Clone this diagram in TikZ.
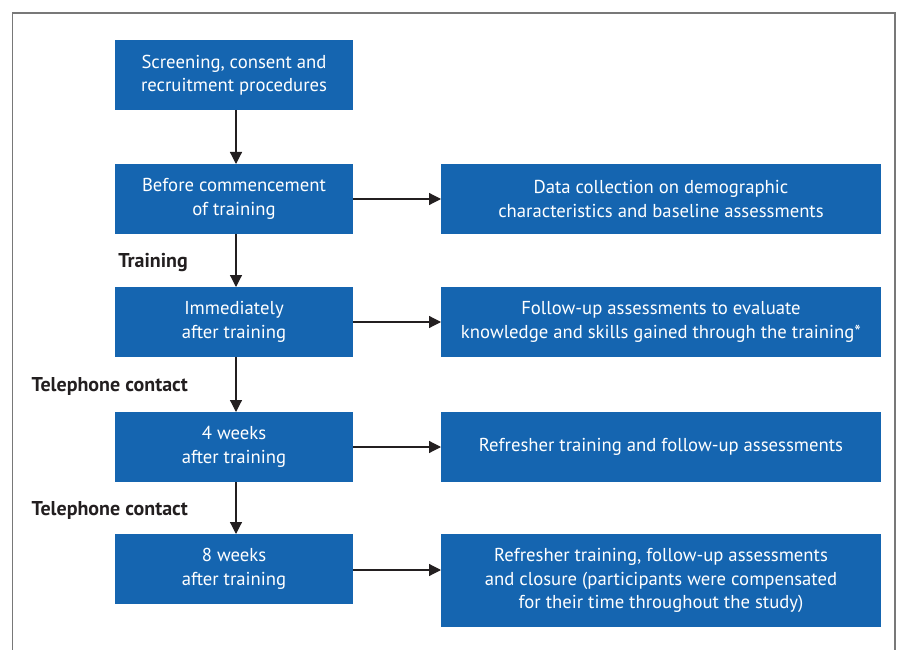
\documentclass[tikz,border=0pt]{standalone}
\usepackage{fontspec}
\setmainfont{PT Sans}
\usetikzlibrary{arrows.meta}
\definecolor{boxblue}{RGB}{21,101,176}
\definecolor{framegray}{RGB}{120,120,120}
\definecolor{arrowblack}{RGB}{35,31,32}
\begin{document}
\begin{tikzpicture}[x=1pt,y=-1pt,
  bluebox/.style={fill=boxblue,text=white,align=center,inner sep=0pt,
    font=\fontsize{18.7}{23.5}\selectfont},
  lbl/.style={font=\fontsize{20}{22}\selectfont\bfseries,text=arrowblack,anchor=east,inner sep=0pt},
  conn/.style={draw=arrowblack,line width=1.2pt,-{Triangle[length=12pt,width=12pt]}}]
\useasboundingbox (0,0) rectangle (898,650);
\draw[framegray,line width=1.5pt] (12.5,660) -- (12.5,13) -- (895,13) -- (895,660);
% left column
\path[bluebox] (115,40) rectangle (353,110) node[midway] (a) {Screening, consent and\\recruitment procedures};
\path[bluebox] (115,164) rectangle (353,234) node[midway] (b) {Before commencement\\of training};
\path[bluebox] (115,287) rectangle (353,357) node[midway] (c) {Immediately\\after training};
\path[bluebox] (115,412) rectangle (353,482) node[midway] (d) {4 weeks\\after training};
\path[bluebox] (115,534) rectangle (353,604) node[midway] (e) {8 weeks\\after training};
% right column
\path[bluebox] (441,164) rectangle (881,234) node[midway] (rb) {Data collection on demographic\\characteristics and baseline assessments};
\path[bluebox] (441,287) rectangle (881,357) node[midway] (rc) {Follow-up assessments to evaluate\\knowledge and skills gained through the training*};
\path[bluebox] (441,412) rectangle (881,482) node[midway] (rd) {Refresher training and follow-up assessments};
\path[bluebox] (441,534) rectangle (881,627) node[midway] (re) {Refresher training, follow-up assessments\\and closure (participants were compensated\\for their time throughout the study)};
% coordinates for box edges
\coordinate (aS) at (236,110); \coordinate (bN) at (236,164);
\coordinate (bS) at (236,234); \coordinate (cN) at (236,287);
\coordinate (cS) at (236,357); \coordinate (dN) at (236,412);
\coordinate (dS) at (236,482); \coordinate (eN) at (236,534);
\coordinate (bE) at (353,199); \coordinate (rbW) at (441,199);
\coordinate (cE) at (353,322); \coordinate (rcW) at (441,322);
\coordinate (dE) at (353,447); \coordinate (rdW) at (441,447);
\coordinate (eE) at (353,570); \coordinate (reW) at (441,570);
\draw[conn] (aS) -- (bN);
\draw[conn] (bS) -- (cN);
\draw[conn] (cS) -- (dN);
\draw[conn] (dS) -- (eN);
\draw[conn] (bE) -- (rbW);
\draw[conn] (cE) -- (rcW);
\draw[conn] (dE) -- (rdW);
\draw[conn] (eE) -- (reW);
\node[lbl] (t1) at (188,263) {Training};
\node[lbl] (t2) at (188,386) {Telephone contact};
\node[lbl] (t3) at (188,510) {Telephone contact};
\end{tikzpicture}
\end{document}
